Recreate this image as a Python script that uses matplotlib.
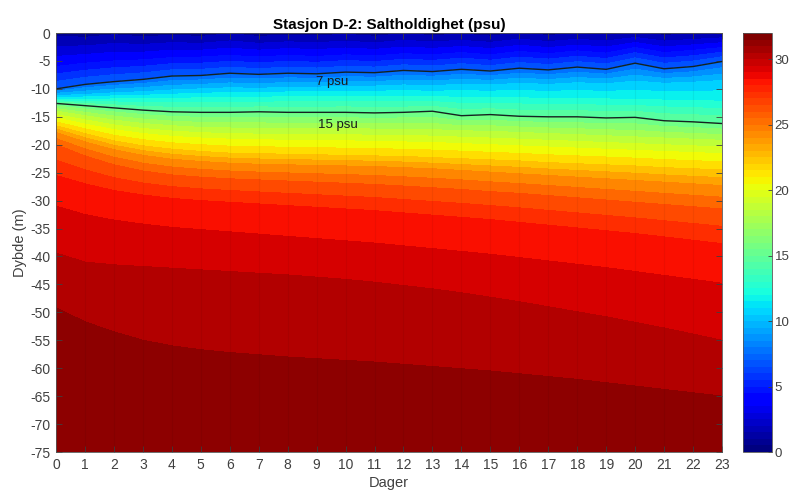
import matplotlib
matplotlib.use("Agg")
import matplotlib.pyplot as plt
import numpy as np
from matplotlib import cm, colors

plt.rcParams['font.family'] = ['Liberation Sans', 'DejaVu Sans']
plt.rcParams['axes.unicode_minus'] = False

# Days of the time series
days = list(range(24))

# Depth (m) of each salinity isoline per day
surface_psu = [0.7, 0.5, 0.8, 0.5, 0.7, 0.5, 0.9, 0.5, 0.7, 0.6, 0.8, 0.5,
               0.9, 0.6, 0.8, 0.5, 1.0, 0.6, 0.9, 0.7, 1.1, 0.6, 0.8, 1.0]
d04 = [-6.0, -5.4, -5.0, -4.8, -4.4, -4.3, -4.0, -4.3, -4.0, -4.2, -3.9, -4.1,
       -3.7, -3.9, -3.5, -3.9, -3.3, -3.7, -3.2, -3.6, -2.6, -3.5, -3.1, -2.6]
d07 = [-10.0, -9.2, -8.7, -8.3, -7.7, -7.6, -7.2, -7.4, -7.2, -7.3, -7.0, -7.1,
       -6.7, -6.9, -6.5, -6.8, -6.3, -6.6, -6.1, -6.5, -5.4, -6.4, -6.0, -5.1]
d10 = [-11.2, -11.0, -10.7, -10.5, -10.2, -10.0, -9.8, -9.9, -9.7, -9.7, -9.5, -9.5,
       -9.3, -9.4, -9.2, -9.3, -9.0, -9.2, -8.9, -9.1, -8.6, -9.0, -8.8, -8.5]
d12 = [-11.9, -11.9, -11.8, -11.8, -11.7, -11.6, -11.5, -11.5, -11.4, -11.4, -11.3, -11.3,
       -11.4, -11.4, -11.5, -11.5, -11.6, -11.7, -11.7, -11.8, -11.9, -12.0, -12.1, -12.2]
d15 = [-12.6, -13.0, -13.4, -13.8, -14.1, -14.2, -14.2, -14.1, -14.2, -14.2, -14.2, -14.3,
       -14.2, -14.0, -14.8, -14.6, -14.9, -15.0, -15.0, -15.2, -15.1, -15.7, -15.9, -16.2]
d18 = [-14.0, -14.8, -15.6, -16.2, -16.6, -16.9, -17.0, -17.1, -17.1, -17.1, -17.1, -17.2,
       -17.2, -17.3, -17.5, -17.6, -17.8, -18.0, -18.2, -18.4, -18.6, -18.8, -19.0, -19.2]
d20 = [-15.2, -16.3, -17.3, -18.0, -18.5, -18.8, -19.0, -19.1, -19.2, -19.3, -19.3, -19.4,
       -19.5, -19.6, -19.8, -20.0, -20.2, -20.4, -20.6, -20.8, -21.0, -21.2, -21.4, -21.6]
d22 = [-16.6, -18.0, -19.3, -20.2, -20.8, -21.2, -21.5, -21.6, -21.7, -21.8, -21.9, -22.0,
       -22.1, -22.3, -22.5, -22.7, -22.9, -23.2, -23.4, -23.6, -23.8, -24.1, -24.3, -24.5]
d24 = [-17.8, -19.5, -20.9, -21.9, -22.6, -23.0, -23.3, -23.5, -23.6, -23.7, -23.8, -23.9,
       -24.1, -24.3, -24.6, -24.9, -25.2, -25.5, -25.8, -26.1, -26.4, -26.7, -27.0, -27.3]
d26 = [-20.0, -22.0, -23.6, -24.7, -25.4, -25.8, -26.1, -26.3, -26.5, -26.7, -26.9, -27.1,
       -27.4, -27.7, -28.0, -28.4, -28.7, -29.1, -29.5, -29.9, -30.3, -30.7, -31.1, -31.5]
d28 = [-25.5, -27.0, -28.2, -29.0, -29.6, -30.0, -30.3, -30.6, -30.9, -31.2, -31.5, -31.8,
       -32.2, -32.6, -33.0, -33.4, -33.9, -34.4, -34.9, -35.4, -35.9, -36.5, -37.1, -37.7]
d29 = [-31.0, -32.5, -33.5, -34.2, -34.8, -35.2, -35.6, -36.0, -36.4, -36.8, -37.2, -37.6,
       -38.1, -38.6, -39.1, -39.6, -40.2, -40.8, -41.4, -42.0, -42.7, -43.4, -44.1, -44.8]
d30 = [-39.4, -41.0, -41.5, -41.8, -42.1, -42.4, -42.7, -43.0, -43.3, -43.7, -44.1, -44.6,
       -45.2, -45.8, -46.5, -47.3, -48.1, -49.0, -49.9, -50.8, -51.8, -52.8, -53.9, -55.0]
d31 = [-49.2, -51.7, -53.5, -55.0, -56.0, -56.7, -57.2, -57.6, -58.0, -58.3, -58.6, -58.9,
       -59.3, -59.7, -60.1, -60.5, -61.0, -61.5, -62.0, -62.6, -63.2, -63.8, -64.4, -65.0]
bottom_psu = 31.7

isolines = [(4, d04), (7, d07), (10, d10), (12, d12), (15, d15), (18, d18), (20, d20),
            (22, d22), (24, d24), (26, d26), (28, d28), (29, d29), (30, d30), (31, d31)]

# curvilinear grid: rows = isolines (surface to bottom), columns = days
n = len(days)
Y = np.vstack([np.zeros(n)] + [np.array(d) for _, d in isolines] + [np.full(n, -75.0)])
Z = np.vstack([np.array(surface_psu)] + [np.full(n, float(s)) for s, _ in isolines]
              + [np.full(n, bottom_psu)])
X = np.tile(np.array(days, dtype=float), (Y.shape[0], 1))

norm = colors.Normalize(vmin=0, vmax=32)

fig = plt.figure(figsize=(7.9, 4.92), dpi=100)
ax = fig.add_axes([0.0709, 0.0813, 0.843, 0.8516])
cax = fig.add_axes([0.9405, 0.0813, 0.0367, 0.8516])

ax.contourf(X, Y, Z, levels=np.arange(0, 33, 1), cmap='jet', norm=norm)
ax.vlines(days[1:-1], -75, 0, colors='k', alpha=0.05, lw=0.8)

# 7 and 15 psu isolines
ax.plot(days, d07, color='#142222', lw=1.0)
ax.plot(days, d15, color='#142222', lw=1.0)
ax.text(9.55, -8.7, '7 psu', fontsize=9.5, ha='center', va='center', color='#1a1a1a')
ax.text(9.75, -16.4, '15 psu', fontsize=9.5, ha='center', va='center', color='#1a1a1a')

ax.set_xlim(0, 23)
ax.set_ylim(-75, 0)
ax.set_xticks(days)
ax.set_yticks(np.arange(-75, 1, 5))
ax.tick_params(direction='in', length=4, width=0.6, labelsize=10, colors='#404040',
               top=True, right=True, pad=4)
for s in ax.spines.values():
    s.set_color('#555555')
    s.set_linewidth(0.6)

ax.set_title('Stasjon D-2: Saltholdighet (psu)', fontsize=11, fontweight='bold', pad=3)
ax.set_xlabel('Dager', fontsize=10.5, color='#404040', labelpad=3)
ax.set_ylabel('Dybde (m)', fontsize=10.5, color='#404040', labelpad=2)

sm = cm.ScalarMappable(norm=norm, cmap=plt.get_cmap('jet', 64))
cb = fig.colorbar(sm, cax=cax)
cb.set_ticks([0, 5, 10, 15, 20, 25, 30])
cb.ax.tick_params(direction='in', length=3, width=0.6, labelsize=9.5, colors='#404040', pad=2)
cb.outline.set_edgecolor('#555555')
cb.outline.set_linewidth(0.6)

fig.savefig('out.png', dpi=100)
